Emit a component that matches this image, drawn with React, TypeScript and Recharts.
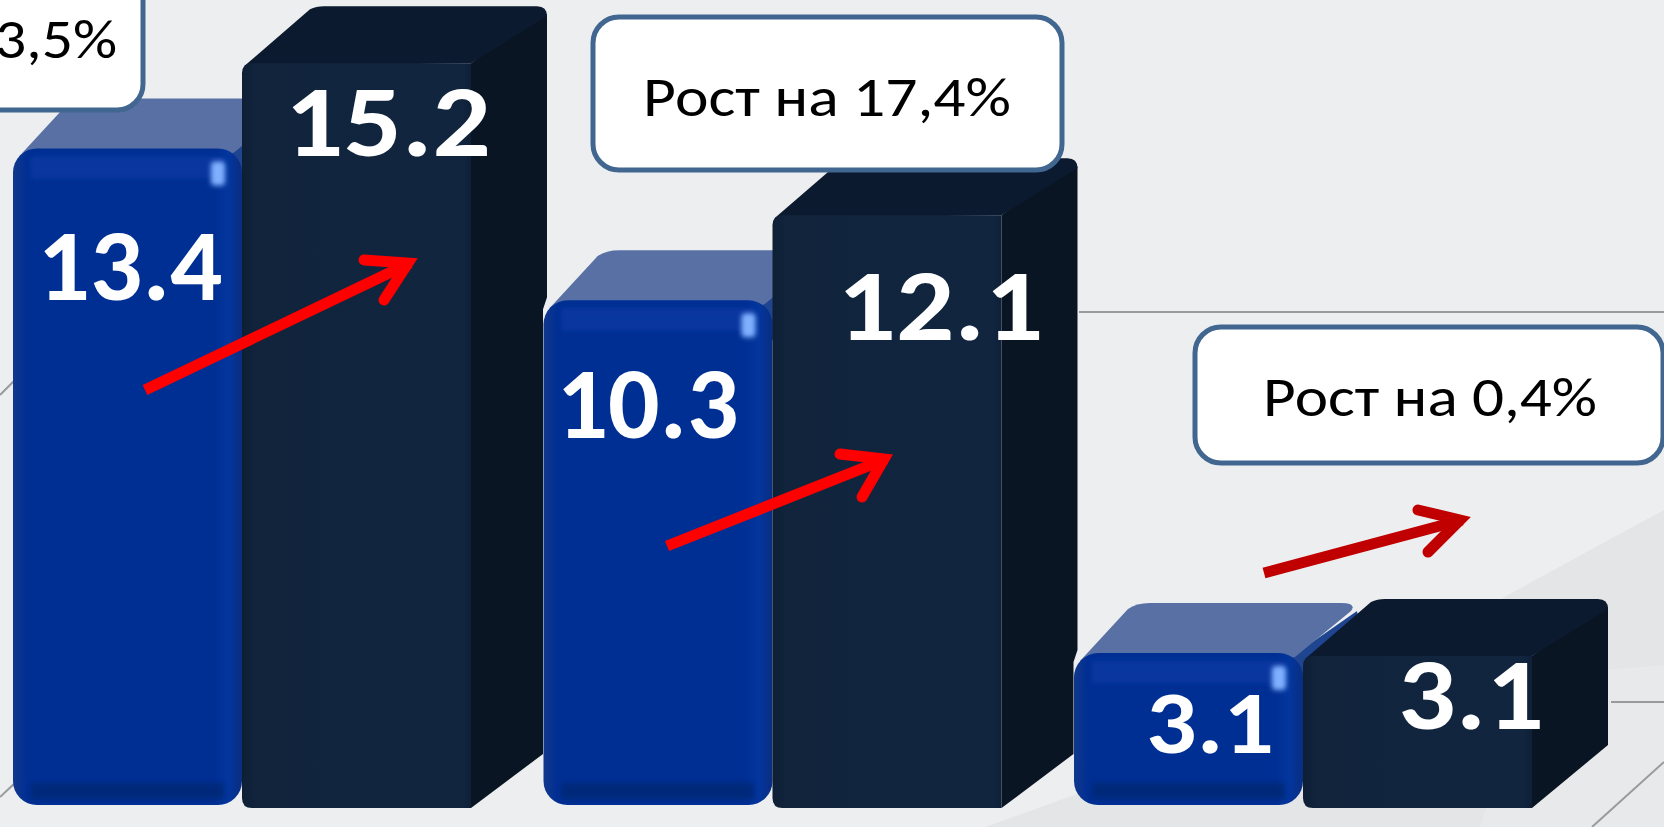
import { BarChart, Bar, XAxis, YAxis, LabelList } from 'recharts'

const categories = ['A', 'B', 'C']
const prevValues = [13.4, 10.3, 3.1]
const currValues = [15.2, 12.1, 3.1]

const prevLabelPos = [{ dx: 117, dy: 117 }, { dx: 104, dy: 103 }, { dx: 136, dy: 69 }]
const currLabelPos = [{ dx: 146, dy: 58 }, { dx: 168, dy: 90 }, { dx: 168, dy: 38 }]
const prevLabelWidth = [185, 182, 128]
const currLabelWidth = [206, 206, 146]

const data = categories.map((c, i) => ({ name: c, prev: prevValues[i], curr: currValues[i] }))

const W = 1664
const H = 827
const FONT = 'Carlito, Lato, "Noto Sans", sans-serif'

const BlueBar = (props: any) => {
  const { x, y, width, height } = props
  const b = y + height
  const r = width > 0 ? 24 : 0
  const dx = 62
  const dy = 50
  return (
    <g>
      <path
        d={`M${x + width - 12} ${y + 4} L${x + width + dx - 8} ${y - dy + 8} Q${x + width + dx} ${y - dy + 40} ${x + width + dx - 20} ${y + 30} L${x + width} ${y + 40} Z`}
        fill="#1f4590"
      />
      <path
        d={`M${x + 6} ${y + 8} L${x + dx - 8} ${y - dy + 6} Q${x + dx} ${y - dy} ${x + dx + 14} ${y - dy} L${x + width + dx - 24} ${y - dy} Q${x + width + dx - 8} ${y - dy} ${x + width + dx - 14} ${y - dy + 8} L${x + width - 8} ${y + 4} L${x + width - 24} ${y + 8} Z`}
        fill="#5870a4"
      />
      <rect x={x} y={y} width={width} height={height} rx={r} ry={r} fill="url(#blueFront)" />
      <rect x={x + 18} y={y + 8} width={width - 36} height={Math.min(22, height / 4)} fill="#0b3ba6" opacity={0.7} filter="url(#soft)" />
      <rect x={x + 18} y={b - 22} width={width - 36} height={16} fill="#002670" opacity={0.7} filter="url(#soft)" />
      <rect x={x + width - 31} y={y + 13} width={14} height={24} rx={4} fill="#7fb0ff" filter="url(#soft)" />
    </g>
  )
}

const DarkBar = (props: any) => {
  const { x, y: y0, width, height, value, index } = props
  const y = y0 + 3
  const b = y + height
  const dx = 76
  const dy = 57
  const right = x + width
  // the next group's blue bar stands in front of this side face
  const cut = 72
  const next = prevValues[index + 1]
  const side =
    next !== undefined
      ? `M${right} ${y} L${right + dx - 8} ${y - dy + 8} L${right + dx} ${y - dy + 8} L${right + dx} ${b - (next / value) * height - 6} L${right + cut} ${b - (next / value) * height + 6} L${right + cut} ${b - (cut * dy) / dx} L${right} ${b} Z`
      : `M${right} ${y} L${right + dx - 8} ${y - dy + 8} L${right + dx} ${y - dy + 8} L${right + dx} ${b - dy - 6} L${right} ${b} Z`
  return (
    <g>
      <path d={side} fill="#0a1523" />
      <path
        d={`M${x + 2} ${y + 3} L${x + dx - 8} ${y - dy + 3} Q${x + dx - 2} ${y - dy} ${x + dx + 6} ${y - dy} L${right + dx - 10} ${y - dy} Q${right + dx} ${y - dy} ${right + dx} ${y - dy + 10} L${right} ${y} Z`}
        fill="#0b1a2e"
      />
      <path
        d={`M${x} ${y + 10} Q${x} ${y} ${x + 10} ${y} L${right} ${y} L${right} ${b} L${x + 10} ${b} Q${x} ${b} ${x} ${b - 10} Z`}
        fill="url(#darkFront)"
      />
    </g>
  )
}

const makeLabel = (pos: { dx: number; dy: number }[], widths: number[], shift: number) => (props: any) => {
  const { x, y, value, index } = props
  return (
    <text
      x={x + pos[index].dx}
      y={y + shift + pos[index].dy}
      textAnchor="middle"
      dominantBaseline="central"
      textLength={widths[index]}
      lengthAdjust="spacingAndGlyphs"
      fontFamily={FONT}
      fontWeight={700}
      fontSize={index === 2 && shift === 0 ? 90 : 102}
      fill="#ffffff"
    >
      {value.toFixed(1)}
    </text>
  )
}

const Arrow = ({ from, tip, barbA, barbB, color }: any) => (
  <g stroke={color} fill="none" strokeWidth={11}>
    <line x1={from[0]} y1={from[1]} x2={tip[0] - 6} y2={tip[1] + 3} />
    <path d={`M${barbA[0]} ${barbA[1]} L${tip[0] - 8} ${tip[1] + 3} L${barbB[0]} ${barbB[1]}`} strokeLinecap="round" strokeLinejoin="miter" />
  </g>
)

const Callout = ({ x, y, width, height, text, textX, textY, textW, anchor }: any) => (
  <g>
    <rect x={x} y={y} width={width} height={height} rx={26} ry={26} fill="#ffffff" stroke="#41668f" strokeWidth={5} />
    <text
      x={textX}
      y={textY}
      textAnchor={anchor ?? 'middle'}
      fontFamily={FONT}
      fontSize={56}
      fill="#000000"
      textLength={textW}
      lengthAdjust="spacingAndGlyphs"
    >
      {text}
    </text>
  </g>
)

export default function App() {
  const layer: React.CSSProperties = { position: 'absolute', left: 0, top: 0 }
  return (
    <div style={{ position: 'fixed', left: 0, top: 0, width: W, height: H, overflow: 'hidden', background: '#edeef0' }}>
      {/* backdrop */}
      <svg width={W} height={H} style={layer}>
        <path d="M985 827 C1130 775 1290 720 1400 655 C1480 610 1590 550 1664 510 L1664 827 Z" fill="#e4e5e7" />
        <path d="M1530 675 C1580 672 1630 668 1664 665 L1664 827 L1480 827 Z" fill="#e8e9eb" />
        <g stroke="#989a9c" strokeWidth={2}>
          <line x1={1079} y1={312} x2={1664} y2={312} />
          <line x1={1611} y1={702} x2={1664} y2={702} />
          <line x1={1592} y1={827} x2={1664} y2={762} />
          <line x1={0} y1={395} x2={15} y2={380} />
          <line x1={0} y1={797} x2={15} y2={783} />
        </g>
      </svg>

      <div style={layer}>
        <BarChart
          width={W}
          height={H}
          data={data}
          margin={{ top: 0, right: 95.5, bottom: 22, left: -23 }}
          barSize={229}
          barGap={0}
        >
          <defs>
            <linearGradient id="blueFront" x1="0" y1="0" x2="1" y2="0">
              <stop offset="0" stopColor="#12388c" />
              <stop offset="0.06" stopColor="#002f93" />
              <stop offset="0.88" stopColor="#002f93" />
              <stop offset="0.94" stopColor="#03369e" />
              <stop offset="1" stopColor="#0a2d80" />
            </linearGradient>
            <linearGradient id="darkFront" x1="0" y1="0" x2="1" y2="0">
              <stop offset="0" stopColor="#0e1f35" />
              <stop offset="0.06" stopColor="#11243c" />
              <stop offset="0.96" stopColor="#11253f" />
              <stop offset="1" stopColor="#0f2038" />
            </linearGradient>
            <filter id="soft" x="-30%" y="-30%" width="160%" height="160%">
              <feGaussianBlur stdDeviation="2.5" />
            </filter>
          </defs>
          <XAxis dataKey="name" hide />
          <YAxis hide domain={[0, 16.43]} />
          <Bar dataKey="prev" isAnimationActive={false} shape={BlueBar}>
            <LabelList dataKey="prev" content={makeLabel(prevLabelPos, prevLabelWidth, 0)} />
          </Bar>
          <Bar dataKey="curr" isAnimationActive={false} shape={DarkBar}>
            <LabelList dataKey="curr" content={makeLabel(currLabelPos, currLabelWidth, 3)} />
          </Bar>
        </BarChart>
      </div>

      {/* growth notes */}
      <svg width={W} height={H} style={layer}>
        <Arrow from={[145, 390]} tip={[416, 260]} barbA={[364, 260]} barbB={[384, 300]} color="#ff0000" />
        <Arrow from={[667, 546]} tip={[892, 456]} barbA={[840, 454]} barbB={[862, 497]} color="#ff0000" />
        <Arrow from={[1264, 573]} tip={[1468, 517]} barbA={[1418, 510]} barbB={[1428, 552]} color="#c00000" />
        <Callout x={-40} y={-40} width={183} height={150} text="3,5%" textX={117} textY={58} textW={122} anchor="end" />
        <Callout x={593} y={17} width={469} height={153} text="Рост на 17,4%" textX={827} textY={116} textW={368} />
        <Callout x={1195} y={327} width={468} height={136} text="Рост на 0,4%" textX={1430} textY={416} textW={334} />
      </svg>
    </div>
  )
}
